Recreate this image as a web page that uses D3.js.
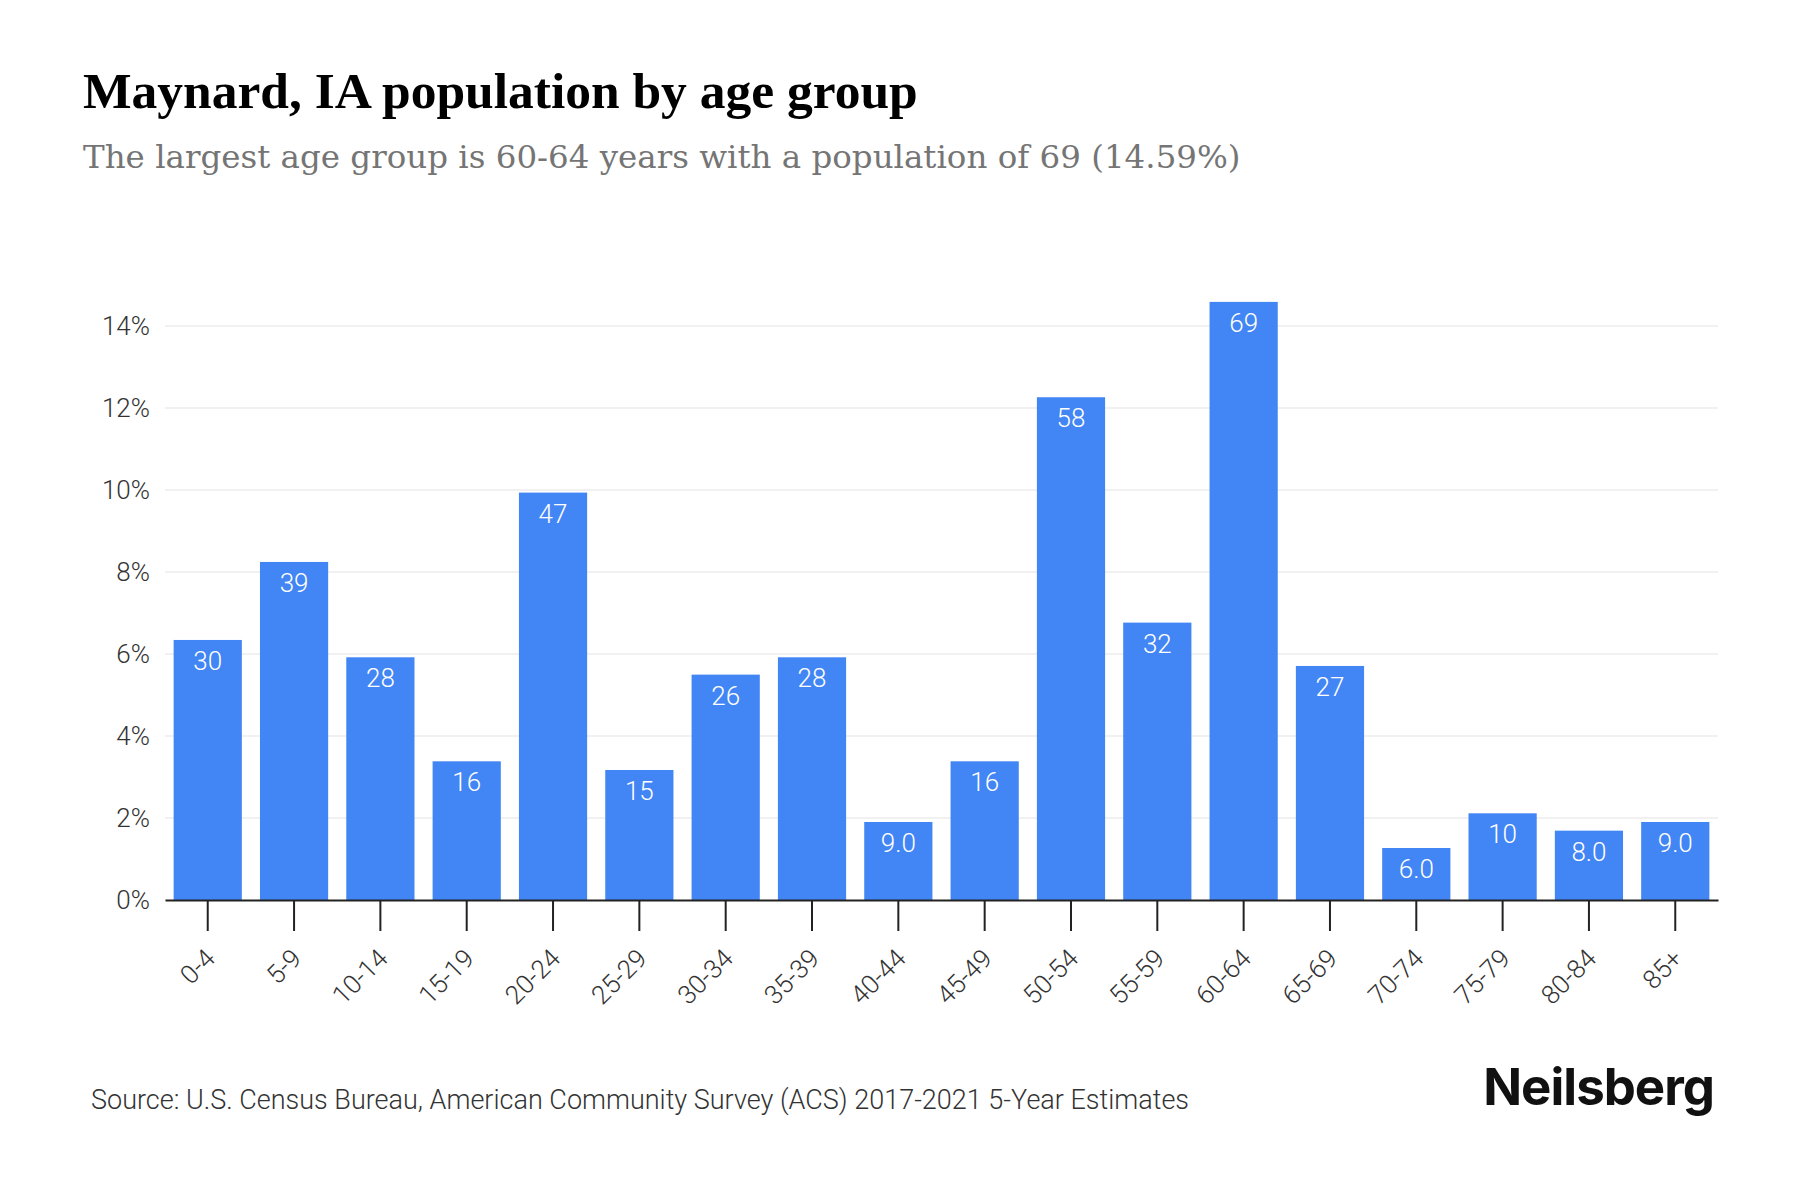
<!DOCTYPE html>
<html>
<head>
<meta charset="utf-8">
<script src="https://cdn.jsdelivr.net/npm/d3@7"></script>
<style>
    body { margin: 0; background: #fff; }
</style>
</head>
<body>
<div id="chart"></div>
<script>
const ageGroups = ['0-4', '5-9', '10-14', '15-19', '20-24', '25-29', '30-34', '35-39', '40-44',
    '45-49', '50-54', '55-59', '60-64', '65-69', '70-74', '75-79', '80-84', '85+'];
const population = [30, 39, 28, 16, 47, 15, 26, 28, 9, 16, 58, 32, 69, 27, 6, 10, 8, 9];
const yTicks = [0, 2, 4, 6, 8, 10, 12, 14];

const title = 'Maynard, IA population by age group';
const subtitle = 'The largest age group is 60-64 years with a population of 69 (14.59%)';
const source = 'Source: U.S. Census Bureau, American Community Survey (ACS) 2017-2021 5-Year Estimates';

const total = d3.sum(population);
const data = ageGroups.map((g, i) => ({ group: g, value: population[i], pct: population[i] / total * 100 }));

const width = 1800;
const height = 1200;

const svg = d3.select('#chart').append('svg')
    .attr('width', width)
    .attr('height', height);

svg.append('rect')
    .attr('width', width)
    .attr('height', height)
    .attr('fill', '#fff');

// titles
svg.append('text')
    .attr('x', 83)
    .attr('y', 108)
    .text(title)
    .style('font-family', '"Liberation Serif", serif')
    .style('font-weight', 'bold')
    .style('font-size', '51.5px')
    .style('fill', '#000');

svg.append('text')
    .attr('x', 83)
    .attr('y', 168)
    .text(subtitle)
    .style('font-family', '"DejaVu Serif", serif')
    .style('font-size', '32.5px')
    .style('fill', '#757575');

const margin = { left: 165, right: 82, top: 326, bottom: 300 };

const xScale = d3.scaleBand()
    .domain(ageGroups)
    .range([margin.left, width - margin.right])
    .paddingInner(0.21)
    .paddingOuter(0.1);

const yScale = d3.scaleLinear()
    .domain([0, 14])
    .range([height - margin.bottom, margin.top]);

// grid
svg.append('g')
    .selectAll('line')
    .data(yTicks.slice(1))
    .join('line')
    .attr('x1', margin.left)
    .attr('x2', width - margin.right)
    .attr('y1', d => yScale(d))
    .attr('y2', d => yScale(d))
    .style('stroke', '#ececec')
    .style('stroke-width', 1.5);

// y labels
const yAxis = svg.append('g')
    .attr('transform', `translate(${margin.left},0)`)
    .call(d3.axisLeft(yScale).tickValues(yTicks).tickFormat(d => d + '%').tickSize(0).tickPadding(15));
yAxis.select('.domain').remove();
yAxis.selectAll('text')
    .style('font-family', 'Roboto, sans-serif')
    .style('font-weight', 300)
    .style('font-size', '26px')
    .style('fill', '#333');

// bars
svg.append('g')
    .selectAll('rect')
    .data(data)
    .join('rect')
    .attr('x', d => xScale(d.group))
    .attr('y', d => yScale(d.pct))
    .attr('width', xScale.bandwidth())
    .attr('height', d => yScale(0) - yScale(d.pct))
    .style('fill', '#4285f4');

// value labels
svg.append('g')
    .selectAll('text')
    .data(data)
    .join('text')
    .attr('x', d => xScale(d.group) + xScale.bandwidth() / 2)
    .attr('y', d => yScale(d.pct) + 30)
    .attr('text-anchor', 'middle')
    .text(d => d.value < 10 ? d.value.toFixed(1) : d.value)
    .style('font-family', 'Roboto, sans-serif')
    .style('font-weight', 300)
    .style('font-size', '26px')
    .style('fill', '#fff');

// x axis
const xAxis = svg.append('g')
    .attr('transform', `translate(0,${yScale(0)})`)
    .call(d3.axisBottom(xScale).tickSize(31).tickSizeOuter(0).tickPadding(0));
xAxis.select('.domain')
    .style('stroke', '#222')
    .style('stroke-width', 2);
xAxis.selectAll('.tick line')
    .style('stroke', '#222')
    .style('stroke-width', 2);
xAxis.selectAll('text')
    .attr('y', 0)
    .attr('dy', 0)
    .attr('text-anchor', 'end')
    .attr('transform', 'translate(9,60) rotate(-45)')
    .style('font-family', 'Roboto, sans-serif')
    .style('font-weight', 300)
    .style('font-size', '26px')
    .style('fill', '#333');

// footer
svg.append('text')
    .attr('x', 91)
    .attr('y', 1109)
    .text(source)
    .style('font-family', 'Roboto, sans-serif')
    .style('font-weight', 300)
    .style('font-size', '27px')
    .style('fill', '#333');

svg.append('text')
    .attr('x', 1714)
    .attr('y', 1105)
    .attr('text-anchor', 'end')
    .text('Neilsberg')
    .style('font-family', 'Inter, sans-serif')
    .style('font-weight', 700)
    .style('font-size', '51px')
    .style('letter-spacing', '-1px')
    .style('fill', '#111');
</script>
</body>
</html>
